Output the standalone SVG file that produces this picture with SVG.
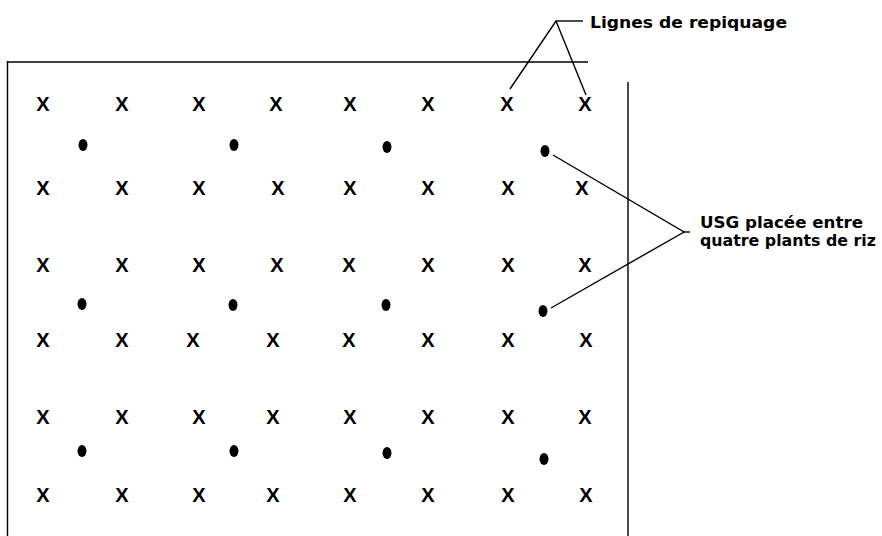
<svg xmlns="http://www.w3.org/2000/svg" width="882" height="536" viewBox="0 0 882 536">
<style>
.x{font-family:"Liberation Sans",Arial,sans-serif;font-size:20px;font-weight:bold;fill:#000;text-anchor:middle}
.lbl{font-family:"DejaVu Sans","Liberation Sans",sans-serif;font-weight:bold;font-size:16px;fill:#000}
.ln{stroke:#000;stroke-width:1.4;fill:none}
.d{fill:#000}
</style>
<rect width="882" height="536" fill="#fff"/>
<g id="frame">
<line class="ln" x1="7" y1="62" x2="588" y2="62" stroke-width="1.6"/>
<line class="ln" x1="7.5" y1="61" x2="7.5" y2="536" stroke-width="2"/>
<line class="ln" x1="628" y1="82" x2="628" y2="536"/>
</g>
<g id="plants">
<text class="x" x="43" y="111">X</text><text class="x" x="122" y="111">X</text><text class="x" x="199" y="111">X</text><text class="x" x="276" y="111">X</text><text class="x" x="350" y="111">X</text><text class="x" x="428" y="111">X</text><text class="x" x="507" y="111">X</text><text class="x" x="585" y="111">X</text>
<text class="x" x="43" y="195">X</text><text class="x" x="122" y="195">X</text><text class="x" x="199" y="195">X</text><text class="x" x="278" y="195">X</text><text class="x" x="350" y="195">X</text><text class="x" x="428" y="195">X</text><text class="x" x="508" y="195">X</text><text class="x" x="582" y="195">X</text>
<text class="x" x="43" y="272">X</text><text class="x" x="122" y="272">X</text><text class="x" x="199" y="272">X</text><text class="x" x="277" y="272">X</text><text class="x" x="349" y="272">X</text><text class="x" x="428" y="272">X</text><text class="x" x="508" y="272">X</text><text class="x" x="585" y="272">X</text>
<text class="x" x="43" y="347">X</text><text class="x" x="122" y="347">X</text><text class="x" x="193" y="347">X</text><text class="x" x="273" y="347">X</text><text class="x" x="349" y="347">X</text><text class="x" x="428" y="347">X</text><text class="x" x="508" y="347">X</text><text class="x" x="586" y="347">X</text>
<text class="x" x="43" y="424">X</text><text class="x" x="122" y="424">X</text><text class="x" x="199" y="424">X</text><text class="x" x="273" y="424">X</text><text class="x" x="350" y="424">X</text><text class="x" x="428" y="424">X</text><text class="x" x="508" y="424">X</text><text class="x" x="585" y="424">X</text>
<text class="x" x="43" y="502">X</text><text class="x" x="122" y="502">X</text><text class="x" x="199" y="502">X</text><text class="x" x="273" y="502">X</text><text class="x" x="350" y="502">X</text><text class="x" x="428" y="502">X</text><text class="x" x="508" y="502">X</text><text class="x" x="586" y="502">X</text>
</g>
<g id="usg">
<ellipse class="d" cx="83" cy="145" rx="4.5" ry="6"/><ellipse class="d" cx="234" cy="145" rx="4.5" ry="6"/><ellipse class="d" cx="387" cy="147" rx="4.5" ry="6"/><ellipse class="d" cx="545" cy="151" rx="4.5" ry="6"/>
<ellipse class="d" cx="82" cy="304" rx="4.5" ry="6"/><ellipse class="d" cx="233" cy="305" rx="4.5" ry="6"/><ellipse class="d" cx="386" cy="305" rx="4.5" ry="6"/><ellipse class="d" cx="543" cy="311" rx="4.5" ry="6"/>
<ellipse class="d" cx="82" cy="451" rx="4.5" ry="6"/><ellipse class="d" cx="234" cy="451" rx="4.5" ry="6"/><ellipse class="d" cx="387" cy="453" rx="4.5" ry="6"/><ellipse class="d" cx="544" cy="459" rx="4.5" ry="6"/>
</g>
<g id="connectors">
<polyline class="ln" points="510,89 556,21 586,95"/>
<line class="ln" x1="556" y1="21" x2="583" y2="21"/>
<polyline class="ln" points="553,155 684,232 551,308"/>
<line class="ln" x1="684" y1="232" x2="690" y2="232"/>
</g>
<g id="label-lignes">
<text class="lbl" x="590" y="28" font-size="17" textLength="197" lengthAdjust="spacingAndGlyphs">Lignes de repiquage</text>
</g>
<g id="label-usg">
<text class="lbl" x="700" y="228" textLength="163" lengthAdjust="spacingAndGlyphs">USG placée entre</text>
<text class="lbl" x="700" y="246" textLength="176" lengthAdjust="spacingAndGlyphs">quatre plants de riz</text>
</g>
</svg>
